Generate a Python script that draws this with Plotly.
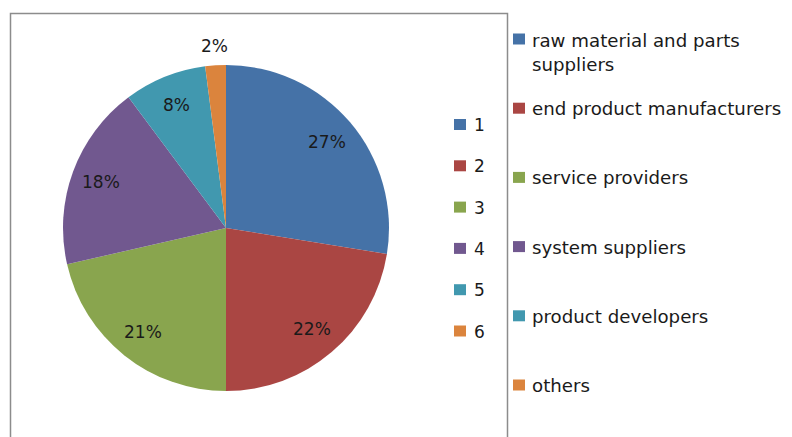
import math
import plotly.graph_objects as go

# ---- data ----
slice_ids = ["1", "2", "3", "4", "5", "6"]
category_names = ["raw material and parts<br>suppliers", "end product manufacturers",
                  "service providers", "system suppliers", "product developers", "others"]
shares = [27, 22, 21, 18, 8, 2]
colors = ["#4572A7", "#AA4643", "#89A54E", "#71588F", "#4198AF", "#DB843D"]

W, H = 792, 437
OFF = 8  # page body margin
FONT = "DejaVu Sans"
TXT = "#1a1a1a"

def px(x):
    return (x - OFF) / W

def py(y):
    return 1 - (y - OFF) / H

# pie geometry (pixels in screenshot)
cx, cy, R = 226, 228, 163

fig = go.Figure(go.Pie(
    labels=slice_ids, values=shares, sort=False, direction="clockwise", rotation=0,
    marker=dict(colors=colors, line=dict(width=0)),
    textinfo="none", hoverinfo="label+value", showlegend=False,
    domain=dict(x=[px(cx - R), px(cx + R)], y=[py(cy + R), py(cy - R)]),
))

annotations = []
shapes = []

# slice labels derived from values
total = sum(shares)
cum = 0
for v in shares:
    mid = (cum + v / 2) / total * 2 * math.pi
    cum += v
    r = R * (0.815 if v / total >= 0.05 else 1.12)
    x = cx + r * math.sin(mid)
    y = cy - r * math.cos(mid)
    annotations.append(dict(x=px(x), y=py(y), xref="paper", yref="paper", text=f"{v}%",
                            showarrow=False, font=dict(family=FONT, size=17, color=TXT),
                            xanchor="center", yanchor="middle"))

# chart border
shapes.append(dict(type="rect", xref="paper", yref="paper", x0=px(10.5), x1=px(507.5),
                   y0=py(460), y1=py(13.5), line=dict(color="#8c8c8c", width=1.5),
                   fillcolor="rgba(0,0,0,0)"))

# inner legend (1-6)
for i, (lab, c) in enumerate(zip(slice_ids, colors)):
    yc = 124.5 + i * 41.3
    shapes.append(dict(type="rect", xref="paper", yref="paper", x0=px(454), x1=px(466),
                       y0=py(yc + 5.5), y1=py(yc - 5.5), fillcolor=c, line=dict(width=0)))
    annotations.append(dict(x=px(471.5), y=py(yc + 0.5), xref="paper", yref="paper", text=lab,
                            showarrow=False, xanchor="left", yanchor="middle",
                            font=dict(family=FONT, size=17, color=TXT)))

# outer legend (category names)
for i, (lab, c) in enumerate(zip(category_names, colors)):
    yc = 39 + i * 69.2
    nlines = lab.count("<br>") + 1
    shapes.append(dict(type="rect", xref="paper", yref="paper", x0=px(513), x1=px(525),
                       y0=py(yc + 5.5), y1=py(yc - 5.5), fillcolor=c, line=dict(width=0)))
    annotations.append(dict(x=px(530), y=py(yc + 0.5 + (nlines - 1) * 13), xref="paper", yref="paper",
                            text=lab, showarrow=False, xanchor="left", yanchor="middle",
                            align="left", font=dict(family=FONT, size=18.2, color=TXT)))

fig.update_layout(width=W, height=H, margin=dict(l=0, r=0, t=0, b=0),
                  paper_bgcolor="white", plot_bgcolor="white",
                  annotations=annotations, shapes=shapes)
fig.write_html("out.html")
